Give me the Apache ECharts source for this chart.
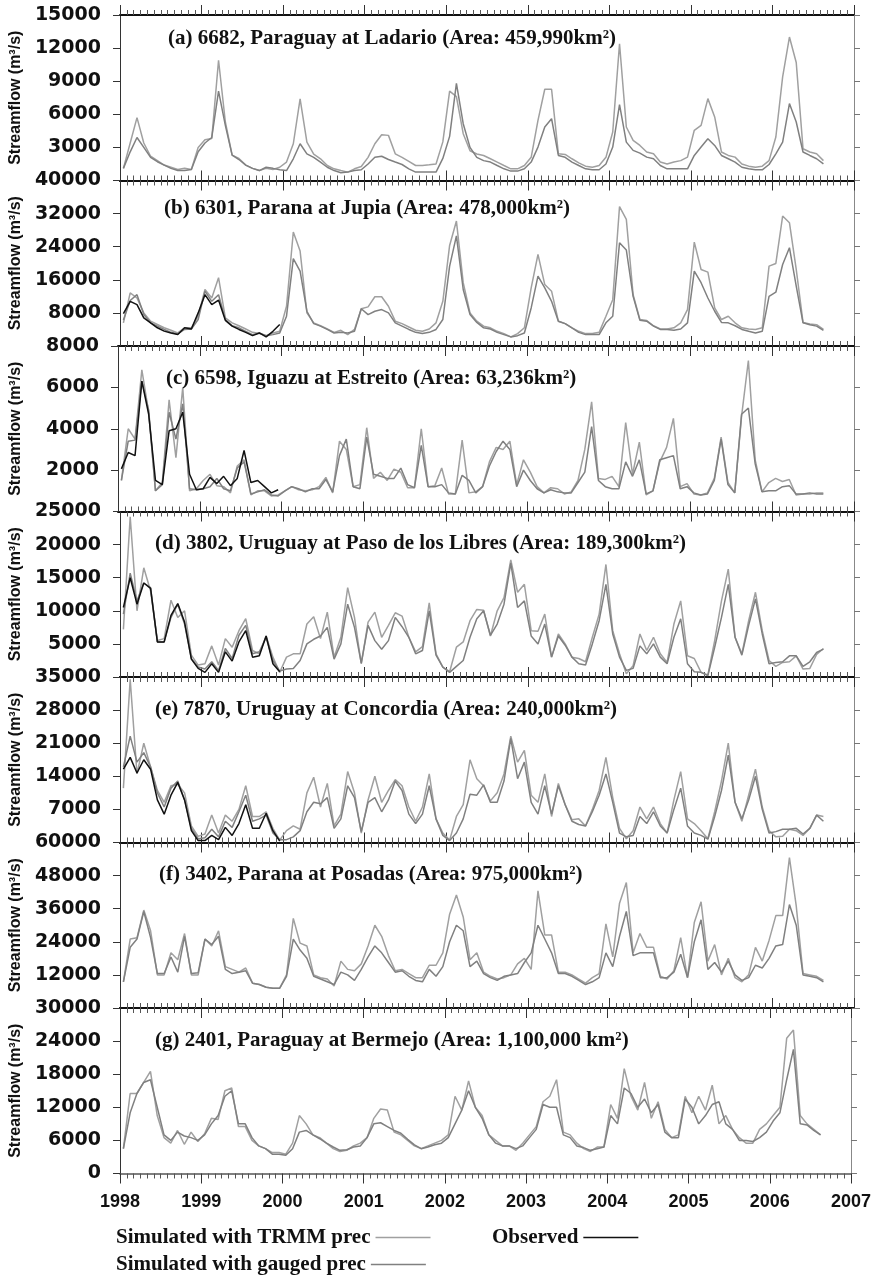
<!DOCTYPE html>
<html>
<head>
<meta charset="utf-8">
<script src="https://cdn.jsdelivr.net/npm/echarts@6/dist/echarts.min.js"></script>
<style>
  html, body { margin: 0; padding: 0; background: #ffffff; }
  #chart { width: 874px; height: 1280px; }
</style>
</head>
<body>
<div id="chart"></div>
<script>
// Monthly streamflow (m3/s), Jan 1998 .. Aug 2006, seven gauging stations.
const startYear = 1998;
const endYear = 2007;

const stationTitles = [
  '(a) 6682, Paraguay at Ladario (Area: 459,990km\u00B2)',
  '(b) 6301, Parana at Jupia (Area: 478,000km\u00B2)',
  '(c) 6598, Iguazu at Estreito (Area: 63,236km\u00B2)',
  '(d) 3802, Uruguay at Paso de los Libres (Area: 189,300km\u00B2)',
  '(e) 7870, Uruguay at Concordia (Area: 240,000km\u00B2)',
  '(f) 3402, Parana at Posadas (Area: 975,000km\u00B2)',
  '(g) 2401, Paraguay at Bermejo (Area: 1,100,000 km\u00B2)'
];
const axisMax = [15000, 40000, 8000, 25000, 35000, 60000, 30000];
const axisStep = [3000, 8000, 2000, 5000, 7000, 12000, 6000];

// (a) Paraguay at Ladario
const a_trmm = [1100,3400,5700,3400,2200,1800,1400,1200,1000,1100,
  1000,3000,3700,3800,10900,5300,2300,2000,1400,1100,
  900,1100,1000,1200,1670,3330,7400,3480,2400,1970,
  1360,1060,900,760,1060,1270,2100,3330,4150,4090,
  2420,2100,1730,1360,1360,1420,1500,3500,8100,7600,
  4240,2700,2400,2270,1970,1670,1360,1060,1060,1360,
  2100,5450,8270,8270,2420,2360,1970,1600,1300,1200,
  1360,2100,4400,12400,4850,3640,3180,2580,2420,1670,
  1500,1670,1800,2120,4550,5000,7420,5760,2580,2270,
  2120,1500,1300,1200,1300,1800,3940,9390,13000,10700,
  2880,2580,2420,1800];
const a_gauged = [1100,2600,3900,3000,2100,1700,1400,1100,900,900,
  1000,2600,3400,3900,8100,5000,2300,1900,1400,1100,
  900,1200,1100,970,900,1970,3330,2420,2100,1670,
  1200,900,700,760,900,970,1500,2100,2200,1900,
  1670,1450,1060,760,760,760,760,2000,4000,8800,
  5150,3000,2100,1800,1670,1360,1060,850,850,1060,
  1670,3030,4850,5600,2270,2100,1670,1360,1060,970,
  970,1500,3030,6880,3480,2730,2480,2120,1970,1360,
  1060,1060,1060,1060,2270,3030,3790,3180,2270,1970,
  1670,1200,1060,970,970,1450,2420,3480,6970,5300,
  2580,2270,1970,1500];

// (b) Parana at Jupia
const b_trmm = [5600,12850,11600,8000,6000,5200,4400,3800,3150,4400,
  4400,7200,13650,11600,16500,6800,5600,4900,4100,3300,
  3000,2500,3150,3550,9600,27550,22950,8000,5600,4900,
  4100,3300,3800,2750,4000,9000,9450,11900,11900,9600,
  6000,5400,4600,3800,3550,4100,5600,10800,24300,30200,
  15300,8000,6000,4800,4400,3550,3000,2200,3000,4400,
  14050,22150,14850,13250,6000,5400,4400,3550,3000,3000,
  3300,7200,11200,33700,30600,12400,6400,6150,4900,4100,
  4100,4400,5600,8800,25100,18500,17850,9200,6400,7200,
  5600,4400,4100,4000,4400,19300,19950,31400,29800,18500,
  5700,5300,5150,4000];
const b_gauged = [6300,11000,12400,7600,5600,4800,4000,3300,2900,4000,
  4100,6400,13250,10800,12400,6400,4900,4400,3550,2750,
  3150,2500,2750,3150,7200,21100,18100,8400,5400,4800,
  4000,3150,3300,3150,3550,9000,7600,8400,8800,8000,
  5600,4800,4000,3300,3000,3300,4000,6400,19300,26600,
  13650,7600,5700,4400,4100,3300,2750,2200,2500,3150,
  9200,16900,14050,10800,6000,5400,4400,3300,2750,2750,
  2750,5600,7200,24950,23200,12000,6200,6000,4800,4000,
  4000,3800,4100,5600,18100,15300,11600,8400,5700,5600,
  4900,4000,3550,3150,3550,12000,13000,19700,23750,14450,
  5600,5150,4800,3800];
const b_observed = [7800,10800,10000,6800,5600,4400,3600,3150,2800,4400,
  4100,8000,12400,10000,11100,6200,4800,4000,3300,2500,
  3150,2200,3550,5200];

// (c) Iguazu at Estreito
const c_trmm = [1500,4000,3500,6850,4800,1000,1400,5400,2600,6000,
  1000,1100,1500,1800,1250,1200,900,2200,2500,800,
  1000,1000,750,800,1000,1200,1050,1000,1050,1200,
  1650,900,3400,3000,1200,1300,4050,1600,1900,1500,
  2050,1900,1150,1150,4000,1200,1250,2100,850,850,
  3450,900,950,1200,2400,3100,3000,3400,1300,2500,
  1900,1200,900,1150,1100,850,950,1500,3000,5300,
  1600,1550,1700,1200,4300,1800,3350,800,1000,2400,
  3100,4500,1200,1350,850,800,900,1600,3600,1400,
  900,4600,7300,2500,950,1400,1600,1450,1550,800,
  850,850,900,900];
const c_gauged = [1500,3400,3450,6300,4900,1000,1300,4800,3500,5200,
  1100,1050,1100,1200,1600,1100,1000,2100,2400,850,
  950,1050,800,750,1000,1200,1100,950,1100,1100,
  1550,950,2700,3500,1200,1100,3600,1800,1700,1600,
  1600,2100,1300,1150,3200,1200,1200,1300,900,850,
  1750,1500,900,1200,2200,2900,3400,3000,1200,2000,
  1500,1100,900,1050,950,900,900,1400,1900,4100,
  1500,1200,1100,1100,2400,1700,2500,850,1000,2500,
  2600,2700,1100,1200,900,800,850,1500,3500,1300,
  900,4700,5000,2300,950,1000,1000,1200,1250,850,
  850,900,850,850];
const c_observed = [2060,2850,2700,6300,4700,1500,1300,3900,4000,4800,
  1800,1050,1100,1650,1350,1700,1250,1600,2950,1400,
  1500,1200,900,1050];

// (d) Uruguay at Paso de los Libres
const d_trmm = [7200,24200,10000,16500,13000,5500,5800,11600,9000,10000,
  3300,1800,2000,4700,1800,5800,4500,7000,8800,4000,
  3500,6200,3000,700,3000,3500,3500,8000,9100,5800,
  9800,3000,6000,13500,9000,2000,8300,9800,6000,7800,
  9700,9200,6000,3800,4600,11200,3500,1500,800,4500,
  5300,8500,10200,10100,6200,10000,12000,17700,12800,14000,
  7000,6900,9500,3000,6500,5000,3000,2800,2300,6000,
  9500,17000,7000,3500,500,1700,6500,4000,6000,3500,
  2200,8000,11500,3200,2800,700,300,5500,11500,16300,
  6000,3500,8500,12800,7000,2500,1600,2200,2300,3200,
  1200,1300,3400,4300];
const d_gauged = [9500,15700,11500,14200,13500,5300,5300,9000,11000,8000,
  2800,1500,1200,2300,1000,4300,2800,6300,7800,3500,
  3800,6000,2500,900,1200,1300,2500,5000,5700,6200,
  7500,2700,5000,11000,7500,2100,7800,5500,4200,5500,
  9000,7600,6000,3500,4000,10000,3300,1500,700,1600,
  2500,6000,8800,10000,6300,8000,11000,17200,10500,11500,
  6200,5000,8000,3000,6200,4800,3000,2000,1800,5000,
  8500,14000,6500,3000,1000,1300,4700,3500,5000,3000,
  2000,6000,8800,2000,800,700,200,4500,9000,14000,
  6000,3300,7800,11800,6500,2000,2200,2300,3200,3200,
  1600,2300,3700,4200];
const d_observed = [10500,15000,11000,14200,13400,5300,5300,9300,11100,8300,
  2700,1300,700,2000,700,3800,2400,5300,7000,3000,
  3200,6200,2000,800];

// (e) Uruguay at Concordia
const e_trmm = [11500,34500,14500,21000,16000,11000,8500,12000,12300,10500,
  3500,1300,1800,5800,2000,5800,4500,7000,12000,5500,
  5500,6500,3000,500,2500,3500,2800,10500,13800,7500,
  12500,3500,6000,15000,10500,2000,9000,14000,8500,11000,
  13300,12000,7500,4500,7500,14500,5000,2000,500,5500,
  8000,17500,13500,12000,8800,10500,14500,22500,17000,19500,
  10000,8500,14500,5500,12500,8000,4800,5000,3500,7000,
  11000,18000,9500,3000,800,2500,7500,5000,7500,4000,
  2000,9000,15000,5000,4000,2500,800,6500,13000,21000,
  8500,4500,10000,15500,7500,2500,1200,1300,2800,2500,
  1500,3000,5800,5500];
const e_gauged = [16000,22500,17000,19000,16000,10500,7500,11500,13000,9000,
  3000,800,1000,2800,1200,4500,3200,6500,10000,4500,
  5000,5800,2000,600,600,1200,2500,6500,8500,8200,
  9500,3000,5000,12000,9500,2300,8500,9500,6500,9000,
  13000,11000,6000,4000,6000,12000,5000,1500,400,2000,
  5000,10200,10000,12200,8500,8500,13000,22000,13500,17000,
  8500,6000,12000,6000,12000,8000,4500,3800,3500,6500,
  10000,14500,8500,2000,1200,1500,5500,4000,6500,3500,
  2000,7000,11500,3500,2000,1500,700,5500,11000,18500,
  8500,5000,9000,14000,7000,2000,2300,2800,2800,3000,
  1800,3000,5800,4500];
const e_observed = [15500,18000,14700,17500,15500,9000,6000,10000,12700,9000,
  2500,400,400,1500,600,3200,1500,4000,8000,3000,
  3000,6200,2500,300];

// (f) Parana at Posadas
const f_trmm = [9500,25000,25500,35500,28000,12000,12000,20000,17500,27000,
  12000,12000,25000,22500,28000,15000,14000,13000,14500,9000,
  8500,7500,7200,7200,12000,32500,23500,22500,12000,11000,
  10500,8000,17000,14000,13500,16000,22500,30000,26000,19000,
  13500,14000,12500,11000,11000,15500,15500,20000,34000,41000,
  33000,17500,20000,13000,11500,10500,11000,12000,16000,18000,
  14000,42500,26500,26500,13000,13000,12000,10500,9000,11000,
  12500,30500,18500,38000,45500,20000,27000,22000,22000,11500,
  10500,13500,25500,11000,31000,38500,17000,23000,12000,18000,
  11000,9500,12000,22000,17000,24500,33500,33500,54500,37000,
  12500,12000,11500,10000];
const f_gauged = [9500,22000,25000,35000,25500,12500,12500,18500,13000,26000,
  12500,12800,25000,23000,26000,14000,12500,13000,13500,9000,
  8500,7500,7200,7200,11500,25000,21000,18000,11500,10500,
  9500,8500,13000,12000,10000,14000,18500,22500,20000,16500,
  13000,13500,11500,10000,9500,14000,11500,15000,24000,30000,
  28000,15000,17000,12500,11000,10000,11500,12000,12500,16500,
  20000,30000,25000,20000,12500,12500,11500,10000,8500,9500,
  11000,20000,15000,26000,35000,19000,20000,20000,20000,11000,
  11000,13000,19500,11000,24000,32000,14000,16500,13000,17000,
  12000,10000,11000,15500,14500,18000,22500,23000,37500,30000,
  12000,11500,11000,9500];

// (g) Paraguay at Bermejo
const g_trmm = [4500,14500,14500,16500,18500,10500,6500,5500,7800,5300,
  7500,5800,7200,10000,9800,15000,15500,8500,8500,6000,
  5000,4500,3800,3800,3500,5500,10500,9000,7000,6500,
  5500,4500,4000,4200,5000,5500,6500,10000,11700,11500,
  7500,7000,6000,5000,4500,5000,5500,6000,7000,14000,
  11500,16800,12000,10500,7000,6000,5000,5000,4200,5500,
  7000,8500,13000,14000,17000,7500,7000,5500,4500,4000,
  4800,4800,12500,10000,19000,14000,11500,16500,10000,13000,
  8000,6500,7000,14000,11000,14000,11500,16000,9000,10500,
  8000,6500,5500,5500,8000,9000,10500,12000,24500,26000,
  10500,9000,8000,7000];
const g_gauged = [4500,11000,14500,16500,17000,12000,7000,6000,7500,6800,
  6500,6000,7000,9000,10500,14000,15000,9000,9000,6500,
  5000,4500,3500,3500,3300,4500,7500,7800,7000,6300,
  5500,4800,4200,4300,4800,5000,6500,9000,9200,8500,
  7800,7300,6200,5200,4500,4800,5200,5500,6500,9000,
  11500,15000,12000,10000,7000,5500,5000,5000,4500,5000,
  6500,8000,12500,12000,12000,7000,6500,5000,4700,4200,
  4500,4800,10500,9000,15500,14500,12000,13500,11000,12500,
  7500,6500,6500,13500,12000,9000,10500,12500,13000,9000,
  8000,6000,6000,5800,6500,7500,9500,11000,17000,22500,
  9000,8800,7800,7000];

const trmmSeries = [a_trmm, b_trmm, c_trmm, d_trmm, e_trmm, f_trmm, g_trmm];
const gaugedSeries = [a_gauged, b_gauged, c_gauged, d_gauged, e_gauged, f_gauged, g_gauged];
const observedSeries = [null, b_observed, c_observed, d_observed, e_observed, null, null];

const NAME_TRMM = 'Simulated with TRMM prec';
const NAME_GAUGED = 'Simulated with gauged prec';
const NAME_OBS = 'Observed';

const COLOR_TRMM = '#a0a0a0';
const COLOR_GAUGED = '#808080';
const COLOR_OBS = '#111111';

// month index -> decimal year at the middle of that month
function toPairs(values) {
  return values.map((v, m) => [startYear + (m + 0.5) / 12, v]);
}

const panelCount = stationTitles.length;
const gridLeft = 117, gridWidth = 737, gridTop0 = 15, gridHeight = 165.5;
const titleOffset = [13, 18, 22, 22, 22, 22, 22];
const titleLeft = [168, 164, 166, 155, 155, 159, 155];

const grids = [], xAxes = [], yAxes = [], series = [], titles = [];

for (let i = 0; i < panelCount; i++) {
  const top = gridTop0 + i * gridHeight;
  grids.push({ left: gridLeft, top: top, width: gridWidth, height: gridHeight, containLabel: false });

  const isLast = i === panelCount - 1;
  const baseX = {
    type: 'value', gridIndex: i, min: startYear, max: endYear, interval: 1,
    splitLine: { show: false },
    minorTick: { show: true, splitNumber: 12, length: 5, lineStyle: { color: '#555', width: 1 } },
    axisLine: { show: true, onZero: false, lineStyle: { color: '#111', width: 2 } }
  };
  xAxes.push(Object.assign({}, baseX, {
    position: 'bottom',
    axisTick: { show: true, inside: !isLast, length: 10, lineStyle: { color: '#333', width: 1 } },
    axisLabel: {
      show: isLast, margin: 20, color: '#111', fontFamily: 'Liberation Sans',
      fontWeight: 'bold', fontSize: 18, formatter: v => String(Math.round(v))
    },
    axisLine: { show: true, onZero: false, lineStyle: { color: isLast ? '#555' : '#111', width: isLast ? 1.5 : 2 } }
  }));
  xAxes.push(Object.assign({}, baseX, {
    position: 'top',
    axisTick: { show: true, inside: i > 0, length: 10, lineStyle: { color: '#333', width: 1 } },
    axisLabel: { show: false }
  }));

  yAxes.push({
    type: 'value', gridIndex: i, position: 'left', min: 0, max: axisMax[i], interval: axisStep[i],
    splitLine: { show: false },
    axisLine: { show: true, lineStyle: { color: '#333', width: 1 } },
    axisTick: { show: true, inside: false, length: 7, lineStyle: { color: '#333' } },
    axisLabel: {
      showMinLabel: isLast, showMaxLabel: true, margin: 19, color: '#111',
      fontFamily: 'DejaVu Sans', fontWeight: 'bold', fontSize: 19,
      formatter: v => String(v)
    },
    name: 'Streamflow (m\u00B3/s)', nameLocation: 'middle', nameRotate: 90, nameGap: 94,
    nameTextStyle: { fontFamily: 'Liberation Sans', fontWeight: 'bold', fontSize: 16, color: '#111' }
  });
  yAxes.push({
    type: 'value', gridIndex: i, position: 'right', min: 0, max: axisMax[i], interval: axisStep[i],
    splitLine: { show: false },
    axisLine: { show: true, lineStyle: { color: '#888', width: 1 } },
    axisTick: { show: true, inside: false, length: 6, lineStyle: { color: '#777' } },
    axisLabel: { show: false }
  });

  const lineBase = { type: 'line', xAxisIndex: 2 * i, yAxisIndex: 2 * i, showSymbol: false, symbol: 'none', animation: false };
  series.push(Object.assign({}, lineBase, {
    name: NAME_TRMM, data: toPairs(trmmSeries[i]),
    lineStyle: { color: COLOR_TRMM, width: 1.5 }, itemStyle: { color: COLOR_TRMM }, z: 2
  }));
  series.push(Object.assign({}, lineBase, {
    name: NAME_GAUGED, data: toPairs(gaugedSeries[i]),
    lineStyle: { color: COLOR_GAUGED, width: 1.5 }, itemStyle: { color: COLOR_GAUGED }, z: 3
  }));
  if (observedSeries[i]) {
    series.push(Object.assign({}, lineBase, {
      name: NAME_OBS, data: toPairs(observedSeries[i]),
      lineStyle: { color: COLOR_OBS, width: 1.5 }, itemStyle: { color: COLOR_OBS }, z: 4
    }));
  }

  titles.push({
    text: stationTitles[i], left: titleLeft[i], top: top + titleOffset[i], padding: 0,
    textStyle: { fontFamily: 'Liberation Serif', fontWeight: 'bold', fontSize: 21, color: '#111' }
  });
}

// legend: label text first, short line sample after it
const legendText = { fontFamily: 'Liberation Serif', fontWeight: 'bold', fontSize: 21, color: '#111' };
const legendBase = {
  orient: 'horizontal', align: 'right', icon: 'rect', itemWidth: 55, itemHeight: 1.5,
  selectedMode: false, textStyle: legendText, padding: 0
};
const legends = [
  Object.assign({}, legendBase, { data: [NAME_TRMM], left: 116, top: 1227 }),
  Object.assign({}, legendBase, { data: [NAME_GAUGED], left: 116, top: 1254 }),
  Object.assign({}, legendBase, { data: [NAME_OBS], left: 492, top: 1227 })
];

const chart = echarts.init(document.getElementById('chart'), null, { renderer: 'canvas' });
chart.setOption({
  backgroundColor: '#ffffff',
  animation: false,
  title: titles,
  legend: legends,
  grid: grids,
  xAxis: xAxes,
  yAxis: yAxes,
  series: series
});
</script>
</body>
</html>
